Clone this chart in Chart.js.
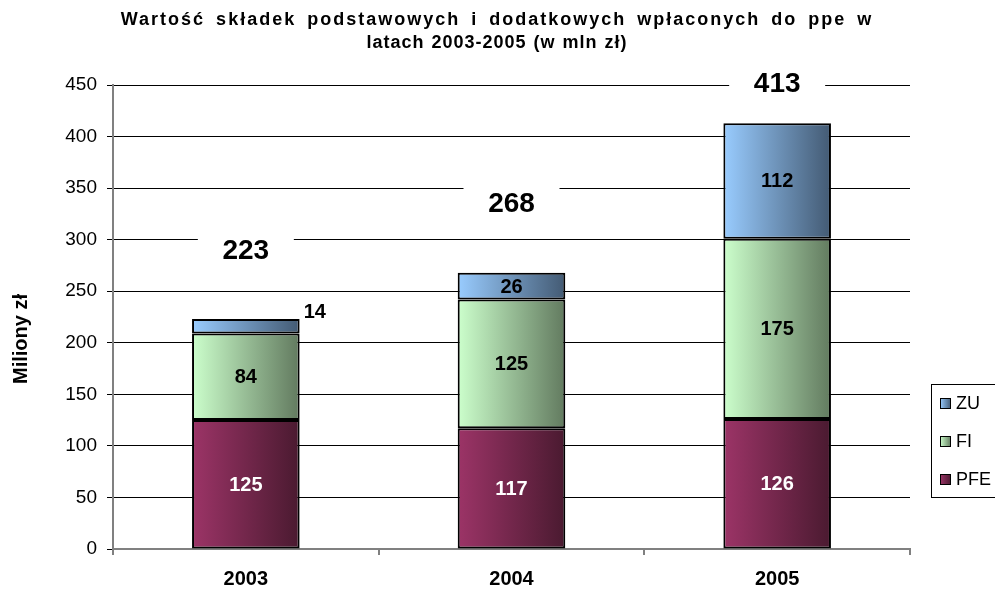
<!DOCTYPE html>
<html>
<head>
<meta charset="utf-8">
<script src="https://cdn.jsdelivr.net/npm/chart.js@4"></script>
<style>
  html, body { margin: 0; padding: 0; background: #fff; }
  #wrap { width: 995px; height: 590px; }
</style>
</head>
<body>
<div id="wrap"><canvas id="myChart" width="995" height="590"></canvas></div>
<script>
const years = ['2003', '2004', '2005']
const pfe = [125, 117, 126]
const fi = [84, 125, 175]
const zu = [14, 26, 112]
const totals = [223, 268, 413]
const titleLines = ['Wartość składek podstawowych i dodatkowych wpłaconych do ppe w', 'latach 2003-2005 (w mln zł)']
const yTitle = 'Miliony zł'

const barPct = 0.405
const FONT = "'Liberation Sans', Arial, sans-serif"

Chart.defaults.font.family = FONT
Chart.defaults.color = '#000'

function gradient(light, dark) {
    return (ctx) => {
        const chart = ctx.chart
        const area = chart.chartArea
        if (!area || ctx.dataIndex === undefined) return light
        const cx = chart.scales.x.getPixelForValue(ctx.dataIndex)
        const w = (area.width / years.length) * barPct
        const g = chart.ctx.createLinearGradient(cx - w / 2, 0, cx + w / 2, 0)
        g.addColorStop(0, light)
        g.addColorStop(1, dark)
        return g
    }
}

const colors = {
    PFE: ['#9c3467', '#4a1a30'],
    FI: ['#ccffcc', '#627a5f'],
    ZU: ['#99ccff', '#435a73']
}

const extras = {
    id: 'extras',
    afterDatasetsDraw(chart) {
        const c = chart.ctx
        const area = chart.chartArea
        const ys = chart.scales.y

        // values inside the segments
        chart.data.datasets.forEach((ds, di) => {
            const meta = chart.getDatasetMeta(di)
            meta.data.forEach((el, i) => {
                const v = ds.data[i]
                c.save()
                c.font = 'bold 20px ' + FONT
                c.fillStyle = ds.label === 'PFE' ? '#fff' : '#000'
                if (v < 20) {
                    c.textAlign = 'left'
                    c.textBaseline = 'middle'
                    c.fillStyle = '#000'
                    c.fillText(v, el.x + el.width / 2 + 4, el.y - 7)
                } else {
                    c.textAlign = 'center'
                    c.textBaseline = 'middle'
                    c.fillText(v, el.x, (el.y + el.base) / 2 + 1)
                }
                c.restore()
            })
        })

        // totals above bars
        totals.forEach((t, i) => {
            const x = chart.scales.x.getPixelForValue(i)
            const y = Math.max(ys.getPixelForValue(t) - 69, area.top - 2)
            c.save()
            c.fillStyle = '#fff'
            c.fillRect(x - 48, y - 20, 96, 40)
            c.font = 'bold 28px ' + FONT
            c.fillStyle = '#000'
            c.textAlign = 'center'
            c.textBaseline = 'middle'
            c.fillText(t, x, y + 1)
            c.restore()
        })
    },
    afterDraw(chart) {
        const c = chart.ctx
        const area = chart.chartArea

        // title
        c.save()
        c.font = 'bold 18px ' + FONT
        c.fillStyle = '#000'
        c.textAlign = 'center'
        c.textBaseline = 'middle'
        c.letterSpacing = '2px'
        c.wordSpacing = '4px'
        c.fillText(titleLines[0], 497, 20)
        c.letterSpacing = '1px'
        c.wordSpacing = '1px'
        c.fillText(titleLines[1], 497, 43)
        c.restore()

        // y axis title
        c.save()
        c.translate(21, (area.top + area.bottom) / 2 + 22)
        c.rotate(-Math.PI / 2)
        c.font = 'bold 20px ' + FONT
        c.fillStyle = '#000'
        c.textAlign = 'center'
        c.textBaseline = 'middle'
        c.fillText(yTitle, 0, 0)
        c.restore()

        // legend
        c.save()
        c.strokeStyle = '#000'
        c.lineWidth = 1
        c.fillStyle = '#fff'
        c.fillRect(931.5, 384.5, 80, 113)
        c.strokeRect(931.5, 384.5, 80, 113)
        const items = chart.data.datasets.slice().reverse()
        items.forEach((ds, i) => {
            const yy = 403 + i * 38
            const col = colors[ds.label]
            const g = c.createLinearGradient(940, 0, 951, 0)
            g.addColorStop(0, col[0])
            g.addColorStop(1, col[1])
            c.fillStyle = g
            c.fillRect(940, yy - 5, 11, 11)
            c.strokeRect(940.5, yy - 4.5, 10, 10)
            c.fillStyle = '#000'
            c.font = '18px ' + FONT
            c.textAlign = 'left'
            c.textBaseline = 'middle'
            c.fillText(ds.label, 956, yy + 1)
        })
        c.restore()
    }
}

const ctx = document.getElementById('myChart')
new Chart(ctx, {
    type: 'bar',
    data: {
        labels: years,
        datasets: [
            { label: 'PFE', data: pfe, backgroundColor: gradient(...colors.PFE) },
            { label: 'FI', data: fi, backgroundColor: gradient(...colors.FI) },
            { label: 'ZU', data: zu, backgroundColor: gradient(...colors.ZU) }
        ]
    },
    options: {
        responsive: false,
        animation: false,
        devicePixelRatio: 1,
        layout: { padding: { top: 85, right: 85, left: 0, bottom: 0 } },
        datasets: {
            bar: {
                barPercentage: barPct,
                categoryPercentage: 1,
                borderColor: '#000',
                borderWidth: 2,
                borderSkipped: false
            }
        },
        plugins: {
            legend: { display: false },
            title: { display: false },
            tooltip: { enabled: false }
        },
        scales: {
            x: {
                stacked: true,
                afterFit: (scale) => { scale.height = 41 },
                grid: {
                    display: true,
                    drawOnChartArea: false,
                    offset: true,
                    tickLength: 6,
                    color: '#808080',
                    lineWidth: 2
                },
                border: { color: '#808080', width: 2 },
                ticks: {
                    font: { size: 20, weight: 'bold' },
                    color: '#000',
                    padding: 12
                }
            },
            y: {
                stacked: true,
                min: 0,
                max: 450,
                afterFit: (scale) => { scale.width = 113 },
                grid: {
                    color: '#000',
                    lineWidth: 1,
                    tickLength: 6
                },
                border: { color: '#808080', width: 2 },
                ticks: {
                    stepSize: 50,
                    font: { size: 19 },
                    color: '#000',
                    padding: 10
                }
            }
        }
    },
    plugins: [extras]
})
</script>
</body>
</html>
